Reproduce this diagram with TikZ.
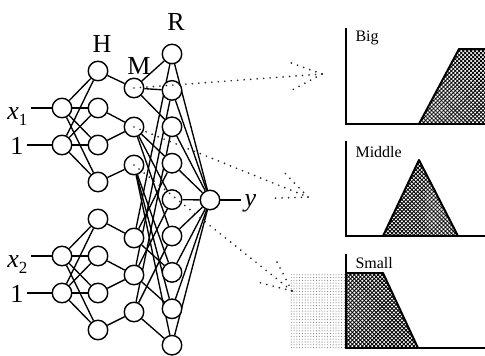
\documentclass[tikz,border=0pt]{standalone}
\usepackage{fontspec}
\setmainfont{Liberation Serif}
\usetikzlibrary{calc,patterns.meta}
\pgfdeclarelayer{bg}
\pgfsetlayers{bg,main}
\begin{document}
\begin{tikzpicture}[x=1pt,y=-1pt,
  neuron/.style={circle,draw,line width=1.4pt,minimum size=19.5pt,inner sep=0pt,fill=white},
  link/.style={line width=1.35pt},
  dotline/.style={line width=1.9pt,dash pattern=on 0pt off 6.5pt,line cap=round,black!85},
  big/.style={font=\fontsize{26}{26}\selectfont},
  small/.style={font=\fontsize{16}{16}\selectfont},
  axisline/.style={line width=1.4pt},
  edge/.style={line width=2pt,line join=round},
  hatchA/.style={pattern={Lines[angle=45,distance=2.8pt,line width=0.9pt]}},
  hatchB/.style={pattern={Lines[angle=-45,distance=2.8pt,line width=0.9pt]}},
  stipple/.style={pattern={Dots[distance=2.8pt,radius=0.55pt]},pattern color=gray}
]
\useasboundingbox (0,0) rectangle (485,356);

% ---- neurons
\foreach \i/\y in {1/108,2/145,3/256,4/293} \node[neuron] (I\i) at (62,\y) {};
\foreach \i in {1,...,8} \node[neuron] (H\i) at (98,{71+37*(\i-1)}) {};
\foreach \i/\y in {1/88,2/127,3/165,4/238,5/275,6/312} \node[neuron] (M\i) at (134,\y) {};
\foreach \i in {1,...,9} \node[neuron] (R\i) at (172,{54+36.4*(\i-1)}) {};
\node[neuron] (O) at (210,200) {};

% ---- labels
\node[big] (lH) at (102,44) {H};
\node[big] (lM) at (139,66) {M};
\node[big] (lR) at (176,22) {R};
\node[big,anchor=base east] (lx1) at (31,119) {\itshape x\raisebox{-6pt}{\fontsize{17}{17}\selectfont\upshape 1}};
\node[big,anchor=base east] (l1a) at (27,154) {1};
\node[big,anchor=base east] (lx2) at (31,267) {\itshape x\raisebox{-6pt}{\fontsize{17}{17}\selectfont\upshape 2}};
\node[big,anchor=base east] (l1b) at (27,302) {1};
\node[big,anchor=base west] (ly) at (241,206) {\itshape y};

\begin{pgfonlayer}{bg}
  \draw[link] (I1) -- (lx1.east |- I1);
  \draw[link] (I2) -- (l1a.east |- I2);
  \draw[link] (I3) -- (lx2.east |- I3);
  \draw[link] (I4) -- (l1b.east |- I4);
  \foreach \a in {1,2} \foreach \b in {1,...,4} \draw[link] (I\a) -- (H\b);
  \foreach \a in {3,4} \foreach \b in {5,...,8} \draw[link] (I\a) -- (H\b);
  \foreach \h/\m in {1/1,2/2,3/2,4/3,5/4,6/5,7/5,8/6} \draw[link] (H\h) -- (M\m);
  \foreach \i in {1,2,3} \foreach \j in {1,2,3} {
    \pgfmathtruncatemacro{\k}{3*(\i-1)+\j}
    \pgfmathtruncatemacro{\n}{3+\j}
    \draw[link] (M\i) -- (R\k);
    \draw[link] (M\n) -- (R\k);
  }
  \foreach \i in {1,...,9} \draw[link] (R\i) -- (O);
  \draw[link] (O) -- (ly.west |- O);
\end{pgfonlayer}

% ---- membership panels
\fill[stipple] (290,273) rectangle (345,348);
% Big
\fill[hatchA] (419,124) -- (459,49) -- (485,49) -- (485,124) -- cycle;
\fill[hatchB] (419,124) -- (459,49) -- (485,49) -- (485,124) -- cycle;
\draw[edge] (419,124) -- (459,49) -- (485,49);
\draw[axisline] (346,28) -- (346,124) -- (485,124);
\node[small,anchor=west] (tBig) at (352,38) {Big};
% Middle
\fill[hatchA] (383,236) -- (419,160) -- (458,236) -- cycle;
\fill[hatchB] (383,236) -- (419,160) -- (458,236) -- cycle;
\draw[edge] (383,236) -- (419,160) -- (458,236);
\draw[axisline] (346,141) -- (346,236) -- (485,236);
\node[small,anchor=west] (tMid) at (352,152) {Middle};
% Small
\fill[hatchA] (346,273) -- (383,273) -- (418,348) -- (346,348) -- cycle;
\fill[hatchB] (346,273) -- (383,273) -- (418,348) -- (346,348) -- cycle;
\draw[edge] (346,273) -- (383,273) -- (418,348);
\draw[axisline] (346,254) -- (346,348) -- (485,348);
\node[small,anchor=west] (tSma) at (352,263) {Small};

% ---- dotted arrows
\coordinate (tB) at (322,74);
\coordinate (tM) at (308,197);
\coordinate (tS) at (292,291);
\foreach \m/\t in {M1/tB,M2/tM,M3/tS} {
  \draw[dotline] (\m.center) -- (\t);
  \draw[dotline] (\t) -- ($(\t)!38pt!24:(\m.center)$);
  \draw[dotline] (\t) -- ($(\t)!38pt!-24:(\m.center)$);
}
\end{tikzpicture}
\end{document}
